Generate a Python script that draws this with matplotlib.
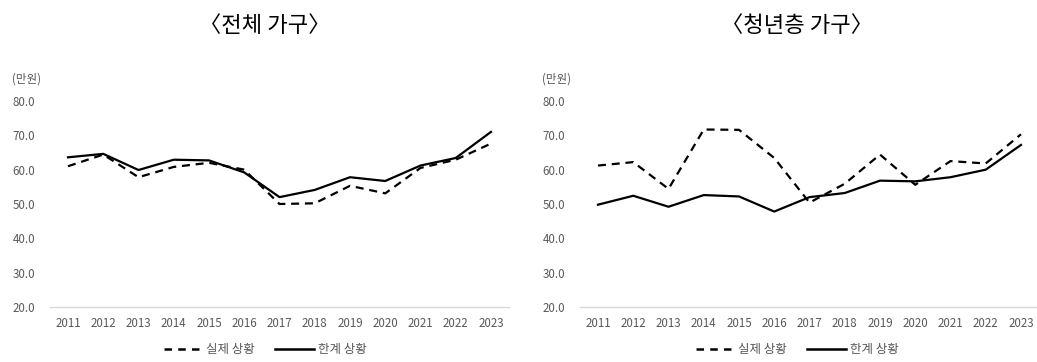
import matplotlib
matplotlib.use("Agg")
import matplotlib.pyplot as plt
from matplotlib.lines import Line2D

plt.rcParams['font.family'] = ['Noto Sans CJK KR', 'DejaVu Sans']

years = [2011, 2012, 2013, 2014, 2015, 2016, 2017, 2018, 2019, 2020, 2021, 2022, 2023]

total_actual = [61.0, 64.4, 57.8, 60.8, 62.0, 60.0, 50.0, 50.2, 55.3, 53.1, 60.5, 62.9, 67.6]
total_limit = [63.6, 64.6, 59.9, 62.9, 62.7, 59.2, 52.0, 54.1, 57.8, 56.7, 61.2, 63.4, 71.0]

youth_actual = [61.2, 62.2, 54.4, 71.7, 71.6, 63.4, 50.4, 55.9, 64.4, 55.6, 62.5, 61.8, 70.3]
youth_limit = [49.8, 52.4, 49.2, 52.6, 52.2, 47.8, 52.0, 53.2, 56.8, 56.6, 57.8, 60.0, 67.2]

titles = ["〈전체 가구〉", "〈청년층 가구〉"]
series_labels = ["실제 상황", "한계 상황"]
yticks = [20, 30, 40, 50, 60, 70, 80]
unit_label = "(만원)"

W, H = 1037, 362
fig = plt.figure(figsize=(W / 100, H / 100), dpi=100)

panels = [
    (total_actual, total_limit, 50.4, 265),
    (youth_actual, youth_limit, 580.4, 797),
]

gray = "#595959"
dash = (0, (3.6, 2.6))

for i, (act, lim, left_px, center_px) in enumerate(panels):
    ax = fig.add_axes([left_px / W, 55 / H, 458.2 / W, 206 / H])
    ax.plot(years, act, color="black", lw=1.6, linestyle=dash)
    ax.plot(years, lim, color="black", lw=1.6)
    ax.set_xlim(2010.5, 2023.5)
    ax.set_ylim(20, 80)
    ax.set_yticks(yticks)
    ax.set_yticklabels([f"{v:.1f}" for v in yticks])
    ax.set_xticks(years)
    ax.set_xticklabels([str(y) for y in years])
    for s in ["top", "right", "left"]:
        ax.spines[s].set_visible(False)
    ax.spines["bottom"].set_color("#d9d9d9")
    ax.spines["bottom"].set_linewidth(1.0)
    ax.tick_params(axis="both", length=0, labelsize=8.3, colors=gray)
    ax.tick_params(axis="y", pad=11)
    ax.tick_params(axis="x", pad=7)
    ax.patch.set_alpha(0)

    fig.text(center_px / W, 1 - 25 / H, titles[i], ha="center", va="center",
             fontsize=16, color="black")
    fig.text((left_px - 24) / W, 1 - 79 / H, unit_label, ha="center", va="center",
             fontsize=8.3, color=gray)

    handles = [Line2D([], [], color="black", lw=1.8, linestyle=(0, (3.0, 2.5))),
               Line2D([], [], color="black", lw=1.8)]
    fig.legend(handles, series_labels, loc="center", bbox_to_anchor=(center_px / W, 1 - 350 / H),
               ncol=2, frameon=False, fontsize=9, labelcolor=gray,
               handlelength=3.1, handletextpad=0.3, columnspacing=1.6)

fig.savefig("out.png", dpi=100)
